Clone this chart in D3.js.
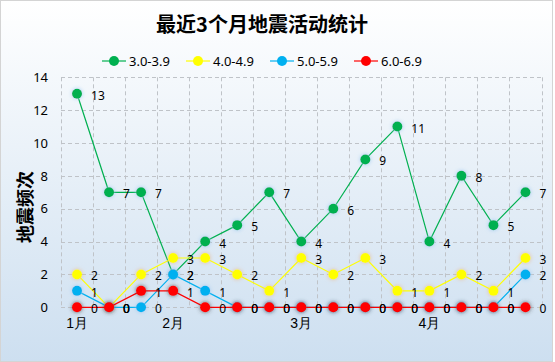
<!DOCTYPE html>
<html>
<head>
<meta charset="utf-8">
<script src="https://cdn.jsdelivr.net/npm/d3@7"></script>
<style>
  html, body { margin: 0; padding: 0; background: #fff; }
  svg { display: block; font-family: "Noto Sans CJK SC", "DejaVu Sans", sans-serif; }
</style>
</head>
<body>
<script>
// 月份刻度（只在部分位置显示）
var monthLabels = ["1月", "", "", "2月", "", "", "", "3月", "", "", "", "4月", "", "", ""];
var seriesNames = ["3.0-3.9", "4.0-4.9", "5.0-5.9", "6.0-6.9"];
var s1 = [13, 7, 7, 2, 4, 5, 7, 4, 6, 9, 11, 4, 8, 5, 7];
var s2 = [2, 0, 2, 3, 3, 2, 1, 3, 2, 3, 1, 1, 2, 1, 3];
var s3 = [1, 0, 0, 2, 1, 0, 0, 0, 0, 0, 0, 0, 0, 0, 2];
var s4 = [0, 0, 1, 1, 0, 0, 0, 0, 0, 0, 0, 0, 0, 0, 0];
var yTicks = [0, 2, 4, 6, 8, 10, 12, 14];

var colors = ["#00b050", "#ffff00", "#00b0f0", "#ff0000"];
var glows = ["#9cc8f0", "#e8b890", "#9cc8f0", "#3a3a3a"];
var allSeries = [s1, s2, s3, s4];

var W = 555, H = 362;
var svg = d3.select("body").append("svg").attr("width", W).attr("height", H);
var defs = svg.append("defs");

// 背景渐变
var grad = defs.append("linearGradient").attr("id", "bg")
  .attr("x1", 0).attr("y1", 0).attr("x2", 0).attr("y2", 1);
grad.append("stop").attr("offset", "0%").attr("stop-color", "#ffffff");
grad.append("stop").attr("offset", "100%").attr("stop-color", "#cddff0");

svg.append("rect").attr("x", 0.5).attr("y", 0.5).attr("width", W - 3).attr("height", H - 1)
  .attr("fill", "url(#bg)").attr("stroke", "#d4d4d4");

// 标记的光晕
glows.forEach(function (c, i) {
  var f = defs.append("filter").attr("id", "glow" + i)
    .attr("x", "-100%").attr("y", "-100%").attr("width", "300%").attr("height", "300%");
  f.append("feGaussianBlur").attr("in", "SourceAlpha").attr("stdDeviation", 2.2).attr("result", "b");
  f.append("feFlood").attr("flood-color", c).attr("flood-opacity", i == 3 ? 0.8 : 0.9);
  f.append("feComposite").attr("in2", "b").attr("operator", "in").attr("result", "g");
  var m = f.append("feMerge");
  m.append("feMergeNode").attr("in", "g");
  m.append("feMergeNode").attr("in", "SourceGraphic");
});

var x = d3.scaleBand().domain(d3.range(monthLabels.length)).range([61, 541.5]);
var y = d3.scaleLinear().domain([0, 14]).range([307.3, 77.3]);

// 网格
var grid = svg.append("g").attr("stroke", "#bfc3c8").attr("stroke-dasharray", "4,3");
grid.selectAll("line.h").data(yTicks).enter().append("line")
  .attr("x1", x.range()[0]).attr("x2", x.range()[1])
  .attr("y1", function (d) { return Math.round(y(d)) + 0.5; })
  .attr("y2", function (d) { return Math.round(y(d)) + 0.5; });
var vx = d3.range(monthLabels.length + 1).map(function (i) { return x.range()[0] + i * x.step(); });
grid.selectAll("line.v").data(vx).enter().append("line")
  .attr("x1", function (d) { return Math.round(d) + 0.5; })
  .attr("x2", function (d) { return Math.round(d) + 0.5; })
  .attr("y1", y(14)).attr("y2", y(0));

// 坐标轴
var yAxis = svg.append("g").attr("transform", "translate(" + 48 + ",0)")
  .call(d3.axisLeft(y).tickValues(yTicks).tickSize(0).tickPadding(0));
yAxis.select(".domain").remove();
yAxis.selectAll("text").attr("font-size", 13).attr("fill", "#000")
  .attr("font-family", "'Noto Sans', sans-serif");

var xAxis = svg.append("g").attr("transform", "translate(0," + 318 + ")")
  .call(d3.axisBottom(x).tickSize(0).tickPadding(0).tickFormat(function (i) { return monthLabels[i]; }));
xAxis.select(".domain").remove();
xAxis.selectAll("text").attr("font-size", 14).attr("fill", "#000");

// 标题
svg.append("text").attr("x", 262).attr("y", 32).attr("text-anchor", "middle")
  .attr("font-size", 20).attr("font-weight", "bold").text("最近3个月地震活动统计");

svg.append("text").attr("transform", "translate(32,207) rotate(-90)").attr("text-anchor", "middle")
  .attr("font-size", 18).attr("font-weight", "bold").text("地震频次");

// 折线与标记
var line = d3.line()
  .x(function (d, i) { return x(i) + x.bandwidth() / 2; })
  .y(function (d) { return y(d); });

allSeries.forEach(function (data, k) {
  var g = svg.append("g");
  g.append("path").datum(data).attr("d", line).attr("fill", "none")
    .attr("stroke", colors[k]).attr("stroke-width", 1.2);
  g.selectAll("circle").data(data).enter().append("circle")
    .attr("cx", function (d, i) { return x(i) + x.bandwidth() / 2; })
    .attr("cy", function (d) { return y(d); })
    .attr("r", 5).attr("fill", colors[k]).attr("filter", "url(#glow" + k + ")");
});

allSeries.forEach(function (data, k) {
  svg.append("g").selectAll("text").data(data).enter().append("text")
    .attr("x", function (d, i) { return x(i) + x.bandwidth() / 2 + 14; })
    .attr("y", function (d) { return y(d) + 6; })
    .attr("font-size", 12).attr("font-family", "'Noto Sans', sans-serif")
    .attr("fill", "#000").text(function (d) { return d; });
});

// 图例
var legendX = [102, 186, 270, 354];
var lg = svg.append("g").selectAll("g").data(seriesNames).enter().append("g")
  .attr("transform", function (d, i) { return "translate(" + legendX[i] + ",61)"; });
lg.append("line").attr("x1", 0).attr("x2", 24).attr("stroke", function (d, i) { return colors[i]; })
  .attr("stroke-width", 1.2);
lg.append("circle").attr("cx", 12).attr("r", 5).attr("fill", function (d, i) { return colors[i]; });
lg.append("text").attr("x", 27).attr("y", 5).attr("font-size", 13)
  .attr("font-family", "'Noto Sans', sans-serif").text(function (d) { return d; });
</script>
</body>
</html>
